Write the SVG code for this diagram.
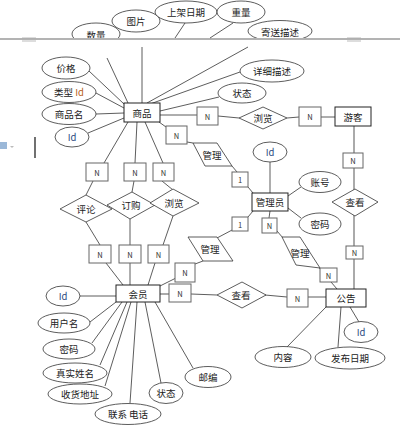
<svg xmlns="http://www.w3.org/2000/svg" width="400" height="427" viewBox="0 0 400 427">
<style>
.ln{stroke:#333;stroke-width:0.8;fill:none}
.gl{stroke:#aaa;stroke-width:2;fill:none}
.box{fill:#fff;stroke:#222;stroke-width:1}
.nb{fill:#fff;stroke:#666;stroke-width:1}
.el{fill:#fff;stroke:#333;stroke-width:0.8}
.dm{fill:#fff;stroke:#333;stroke-width:0.8}
text{font-family:"Noto Sans CJK SC","Liberation Sans",sans-serif;font-size:9.5px;fill:#222;text-anchor:middle;dominant-baseline:central}
.n{font-size:7.5px;fill:#333}
.id{fill:#2b4a80}
.or{fill:#b8601a}
</style>
<defs>
<clipPath id="pg"><rect x="0" y="0" width="400" height="38"/></clipPath>
</defs>
<rect x="0" y="0" width="400" height="427" fill="#fff"/>
<!-- page break artifacts -->
<line x1="0" y1="39" x2="400" y2="39" stroke="#9a9a9a" stroke-width="1.5"/>
<line x1="22" y1="38" x2="36" y2="38" stroke="#aaa" stroke-width="0.8"/>
<line x1="22" y1="41" x2="36" y2="41" stroke="#aaa" stroke-width="0.8"/>
<line x1="347" y1="38" x2="361" y2="38" stroke="#aaa" stroke-width="0.8"/>
<line x1="347" y1="41" x2="361" y2="41" stroke="#aaa" stroke-width="0.8"/>
<line x1="35" y1="137" x2="35" y2="158" stroke="#111" stroke-width="1.2"/>
<rect x="0" y="142" width="7" height="7" fill="#9bb8d8"/>
<path d="M10 146 l2 2 l2 -2 z" fill="#bbb"/>

<g id="connectors">
<line class="ln" x1="185" y1="23" x2="175" y2="38"/>
<line class="ln" x1="233" y1="23" x2="210" y2="38"/>
<line class="ln" x1="107" y1="58" x2="128" y2="103"/>
<line class="ln" x1="142" y1="47" x2="142" y2="103"/>
<line class="ln" x1="248" y1="47" x2="147" y2="103"/>
<line class="ln" x1="240" y1="72" x2="150" y2="104"/>
<line class="ln" x1="219" y1="97" x2="160" y2="111"/>
<line class="ln" x1="89" y1="71" x2="124" y2="104"/>
<line class="ln" x1="96" y1="93" x2="124" y2="108"/>
<line class="ln" x1="96" y1="114" x2="124" y2="113"/>
<line class="ln" x1="88" y1="133" x2="124" y2="118"/>
<line class="ln" x1="160" y1="115" x2="197" y2="115"/>
<line class="ln" x1="218" y1="116" x2="239" y2="118"/>
<line class="ln" x1="287" y1="118" x2="299" y2="117"/>
<line class="ln" x1="321" y1="117" x2="335" y2="117"/>
<line class="gl" x1="354" y1="126" x2="354" y2="289"/>
<line class="ln" x1="159" y1="122" x2="166" y2="127"/>
<line class="ln" x1="187" y1="142" x2="193" y2="143"/>
<line class="ln" x1="232" y1="166" x2="237" y2="172"/>
<line class="ln" x1="248" y1="187" x2="253" y2="193"/>
<line class="ln" x1="270" y1="162" x2="270" y2="193"/>
<line class="ln" x1="288" y1="196" x2="301" y2="187"/>
<line class="ln" x1="288" y1="208" x2="301" y2="218"/>
<line class="ln" x1="248" y1="217" x2="253" y2="211"/>
<line class="ln" x1="234" y1="229" x2="217" y2="238"/>
<line class="ln" x1="203" y1="261" x2="195" y2="264"/>
<line class="ln" x1="176" y1="278" x2="160" y2="286"/>
<line class="ln" x1="270" y1="211" x2="269" y2="218"/>
<line class="ln" x1="277" y1="231" x2="283" y2="238"/>
<line class="ln" x1="319" y1="268" x2="322" y2="270"/>
<line class="ln" x1="331" y1="282" x2="337" y2="289"/>
<line class="ln" x1="128" y1="122" x2="104" y2="163"/>
<line class="ln" x1="137" y1="122" x2="135" y2="163"/>
<line class="ln" x1="145" y1="122" x2="163" y2="163"/>
<line class="ln" x1="93" y1="181" x2="86" y2="195"/>
<line class="ln" x1="134" y1="181" x2="132" y2="192"/>
<line class="ln" x1="162" y1="181" x2="173" y2="190"/>
<line class="ln" x1="86" y1="222" x2="100" y2="245"/>
<line class="ln" x1="130" y1="219" x2="130" y2="245"/>
<line class="ln" x1="173" y1="216" x2="163" y2="245"/>
<line class="ln" x1="106" y1="263" x2="123" y2="285"/>
<line class="ln" x1="130" y1="263" x2="130" y2="285"/>
<line class="ln" x1="155" y1="263" x2="148" y2="285"/>
<line class="gl" x1="160" y1="294" x2="169" y2="294"/>
<line class="ln" x1="191" y1="294" x2="217" y2="295"/>
<line class="ln" x1="265" y1="295" x2="287" y2="297"/>
<line class="ln" x1="308" y1="297" x2="326" y2="297"/>
<line class="ln" x1="80" y1="296" x2="116" y2="296"/>
<line class="ln" x1="90" y1="322" x2="116" y2="302"/>
<line class="ln" x1="92" y1="343" x2="122" y2="302"/>
<line class="ln" x1="100" y1="365" x2="127" y2="302"/>
<line class="ln" x1="105" y1="386" x2="131" y2="302"/>
<line class="ln" x1="130" y1="403" x2="137" y2="302"/>
<line class="ln" x1="161" y1="383" x2="145" y2="302"/>
<line class="ln" x1="193" y1="368" x2="155" y2="302"/>
<line class="ln" x1="287" y1="347" x2="326" y2="307"/>
<line class="ln" x1="338" y1="347" x2="341" y2="307"/>
<line class="ln" x1="359" y1="322" x2="350" y2="307"/>
</g>

<g id="商品"><rect class="box" x="124" y="103" width="36" height="19"/><text x="142" y="113">商品</text></g>
<g id="数量" clip-path="url(#pg)"><ellipse class="el" cx="96" cy="34" rx="24" ry="11"/><text x="96" y="35">数量</text></g>
<g id="图片"><ellipse class="el" cx="136" cy="21" rx="24" ry="11"/><text x="136" y="21">图片</text></g>
<g id="上架日期"><ellipse class="el" cx="186" cy="12" rx="31" ry="11"/><text x="186" y="12">上架日期</text></g>
<g id="重量"><ellipse class="el" cx="241" cy="12" rx="24" ry="11"/><text x="241" y="12">重量</text></g>
<g id="寄送描述" clip-path="url(#pg)"><ellipse class="el" cx="280" cy="31" rx="32" ry="10.5"/><text x="280" y="32">寄送描述</text></g>
<g id="详细描述"><ellipse class="el" cx="272" cy="71" rx="32" ry="11"/><text x="272" y="71">详细描述</text></g>
<g id="商品状态"><ellipse class="el" cx="242" cy="93" rx="24" ry="10"/><text x="242" y="93">状态</text></g>
<g id="价格"><ellipse class="el" cx="66" cy="68" rx="24" ry="11"/><text x="66" y="68">价格</text></g>
<g id="类型Id"><ellipse class="el" cx="69" cy="92" rx="27" ry="10.5"/><text x="69" y="92">类型 <tspan class="or">Id</tspan></text></g>
<g id="商品名"><ellipse class="el" cx="69" cy="114" rx="27" ry="10.5"/><text x="69" y="114">商品名</text></g>
<g id="商品Id"><ellipse class="el" cx="72" cy="137" rx="17" ry="10"/><text class="id" x="72" y="137">Id</text></g>

<g id="N1"><rect class="nb" x="197" y="107" width="21" height="18"/><text class="n" x="207.5" y="116">N</text></g>
<g id="浏览1"><polygon class="dm" points="239,118 263,107 287,118 263,129"/><text x="263" y="118">浏览</text></g>
<g id="N2"><rect class="nb" x="299" y="107" width="22" height="19"/><text class="n" x="310" y="116.5">N</text></g>
<g id="游客"><rect class="box" x="335" y="107" width="36" height="19"/><text x="353" y="116.5">游客</text></g>
<g id="N3"><rect class="nb" x="343" y="153" width="20" height="15"/><text class="n" x="353" y="160.5">N</text></g>
<g id="查看1"><polygon class="dm" points="332,202 355,189 378,202 355,216"/><text x="355" y="202">查看</text></g>
<g id="N4"><rect class="nb" x="346" y="246" width="17" height="13"/><text class="n" x="354.5" y="252.5">N</text></g>

<g id="N5"><rect class="nb" x="166" y="126" width="21" height="18"/><text class="n" x="176.5" y="135">N</text></g>
<g id="管理1"><polygon class="dm" points="193,143 217,143 232,166 205,166"/><text x="212" y="155">管理</text></g>
<g id="one1"><rect class="nb" x="232" y="172" width="16" height="15"/><text class="n" x="240" y="179.5">1</text></g>
<g id="管理员"><rect class="box" x="252" y="193" width="36" height="18"/><text x="270" y="202">管理员</text></g>
<g id="管理员Id"><ellipse class="el" cx="270" cy="152" rx="17" ry="10"/><text class="id" x="270" y="152">Id</text></g>
<g id="账号"><ellipse class="el" cx="320" cy="182" rx="21" ry="10.5"/><text x="320" y="182">账号</text></g>
<g id="管理员密码"><ellipse class="el" cx="320" cy="224" rx="21" ry="11"/><text x="320" y="224">密码</text></g>
<g id="one2"><rect class="nb" x="232" y="217" width="16" height="14"/><text class="n" x="240" y="224">1</text></g>
<g id="管理2"><polygon class="dm" points="188,237 217,237 233,261 203,261"/><text x="210" y="249">管理</text></g>
<g id="N6"><rect class="nb" x="175" y="263" width="20" height="19"/><text class="n" x="185" y="272.5">N</text></g>
<g id="N7"><rect class="nb" x="262" y="218" width="15" height="15"/><text class="n" x="269.5" y="225.5">N</text></g>
<g id="管理3"><polygon class="dm" points="282,237 300,237 320,268 296,265"/><text x="300" y="253">管理</text></g>
<g id="N8"><rect class="nb" x="320" y="268" width="17" height="14"/><text class="n" x="328.5" y="275">N</text></g>

<g id="N9"><rect class="nb" x="86" y="163" width="22" height="18"/><text class="n" x="97" y="172">N</text></g>
<g id="N10"><rect class="nb" x="124" y="163" width="22" height="18"/><text class="n" x="135" y="172">N</text></g>
<g id="N11"><rect class="nb" x="153" y="163" width="21" height="18"/><text class="n" x="163.5" y="172">N</text></g>
<g id="评论"><polygon class="dm" points="60,209 86,195 112,209 86,222"/><text x="86" y="209">评论</text></g>
<g id="订购"><polygon class="dm" points="107,205 132,192 155,205 130,219"/><text x="131" y="205">订购</text></g>
<g id="浏览2"><polygon class="dm" points="150,203 173,189 199,203 173,216"/><text x="174" y="203">浏览</text></g>
<g id="N12"><rect class="nb" x="89" y="245" width="22" height="18"/><text class="n" x="100" y="254">N</text></g>
<g id="N13"><rect class="nb" x="119" y="245" width="22" height="18"/><text class="n" x="130" y="254">N</text></g>
<g id="N14"><rect class="nb" x="148" y="245" width="21" height="18"/><text class="n" x="158.5" y="254">N</text></g>

<g id="会员"><rect class="box" x="116" y="285" width="44" height="17"/><text x="138" y="293.5">会员</text></g>
<g id="N15"><rect class="nb" x="169" y="284" width="22" height="18"/><text class="n" x="180" y="293">N</text></g>
<g id="查看2"><polygon class="dm" points="217,295 242,282 266,295 242,308"/><text x="241" y="295">查看</text></g>
<g id="N16"><rect class="nb" x="287" y="289" width="21" height="18"/><text class="n" x="297.5" y="298">N</text></g>
<g id="公告"><rect class="box" x="326" y="289" width="40" height="18"/><text x="346" y="298">公告</text></g>
<g id="内容"><ellipse class="el" cx="283" cy="357" rx="28" ry="10.5"/><text x="283" y="357">内容</text></g>
<g id="发布日期"><ellipse class="el" cx="350" cy="358" rx="35" ry="11"/><text x="350" y="358">发布日期</text></g>
<g id="公告Id"><ellipse class="el" cx="361" cy="332" rx="17" ry="10.5"/><text class="id" x="361" y="332">Id</text></g>

<g id="会员Id"><ellipse class="el" cx="63" cy="296" rx="17" ry="10"/><text class="id" x="63" y="296">Id</text></g>
<g id="用户名"><ellipse class="el" cx="64" cy="323" rx="26" ry="10"/><text x="64" y="323">用户名</text></g>
<g id="会员密码"><ellipse class="el" cx="69" cy="349" rx="26" ry="10"/><text x="69" y="349">密码</text></g>
<g id="真实姓名"><ellipse class="el" cx="75" cy="373" rx="32" ry="10"/><text x="75" y="373">真实姓名</text></g>
<g id="收货地址"><ellipse class="el" cx="80" cy="394" rx="32" ry="10"/><text x="80" y="394">收货地址</text></g>
<g id="联系电话"><ellipse class="el" cx="128" cy="414" rx="33" ry="10.5"/><text x="128" y="414">联系 电话</text></g>
<g id="会员状态"><ellipse class="el" cx="166" cy="393" rx="17" ry="10.5"/><text x="166" y="393">状态</text></g>
<g id="邮编"><ellipse class="el" cx="208" cy="377" rx="23" ry="10.5"/><text x="208" y="377">邮编</text></g>
</svg>
